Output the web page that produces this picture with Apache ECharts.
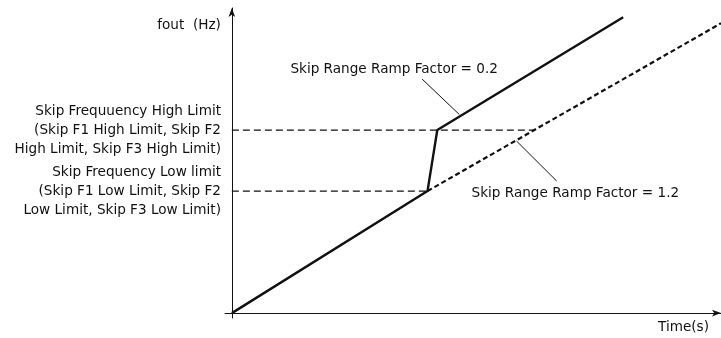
<!DOCTYPE html>
<html>
<head>
<meta charset="utf-8">
<script src="https://cdn.jsdelivr.net/npm/echarts@6/dist/echarts.min.js"></script>
<style>html,body{margin:0;padding:0;background:#fff}#c{width:721px;height:338px}</style>
</head>
<body>
<div id="c"></div>
<script>
// Data (arbitrary units: time 0..100, frequency 0..100)
const skipLow = 40;
const skipHigh = 60;
const rampFast = [[0, 0], [40, 40], [42, 60], [80, 97]];        // Skip Range Ramp Factor = 0.2
const rampSlow = [[40, 40], [100, 95]];                          // Skip Range Ramp Factor = 1.2
const highLimitGuide = [[0, 60], [61.8, 60]];
const lowLimitGuide = [[0, 40], [40, 40]];
const leader02 = [[38.9, 76.7], [46.5, 65.1]];
const leader12 = [[58.2, 56.4], [66.4, 43.3]];
const yLabelValues = [40, 60];
const yLabelTexts = {
  40: 'Skip Frequency Low limit\n(Skip F1 Low Limit, Skip F2\nLow Limit, Skip F3 Low Limit)',
  60: 'Skip Frequuency High Limit\n(Skip F1 High Limit, Skip F2\nHigh Limit, Skip F3 High Limit)'
};
const annotations = [
  { value: [54.4, 79.7], text: 'Skip Range Ramp Factor = 0.2', align: 'right' },
  { value: [49.0, 39.3], text: 'Skip Range Ramp Factor = 1.2', align: 'left' }
];
const xName = 'Time(s)';
const yName = 'fout  (Hz)';

const FONT = 'DejaVu Sans';
const FS = 13.6;
const INK = '#111';
const chart = echarts.init(document.getElementById('c'), null, { renderer: 'canvas' });
const thinDash = { color: '#111', width: 1.2, type: [7, 4] };
chart.setOption({
  animation: false,
  backgroundColor: '#fff',
  textStyle: { fontFamily: FONT },
  grid: { left: 225, right: 0, top: 8, bottom: 20 },
  xAxis: {
    type: 'value', min: -1.4, max: 100,
    name: xName, nameLocation: 'end', nameGap: -12,
    nameTextStyle: { fontFamily: FONT, fontSize: FS, color: INK, align: 'right', verticalAlign: 'top', padding: [7, 0, 0, 0] },
    axisLine: { onZero: true, lineStyle: { color: '#111', width: 1 }, symbol: ['none', 'arrow'], symbolSize: [5, 9] },
    axisTick: { show: false }, axisLabel: { show: false }, splitLine: { show: false }
  },
  yAxis: {
    type: 'value', min: -1.6, max: 100,
    name: yName, nameLocation: 'end', nameGap: -17,
    nameTextStyle: { fontFamily: FONT, fontSize: FS, color: INK, align: 'right', verticalAlign: 'middle', padding: [0, 11, 0, 0] },
    axisLine: { onZero: true, lineStyle: { color: '#111', width: 1 }, symbol: ['none', 'arrow'], symbolSize: [5, 9] },
    axisTick: { show: false },
    axisLabel: {
      customValues: yLabelValues, margin: 4, align: 'right',
      fontFamily: FONT, fontSize: FS, color: INK, lineHeight: 19,
      formatter: v => yLabelTexts[v] || ''
    },
    splitLine: { show: false }
  },
  series: [
    { type: 'line', data: highLimitGuide, symbol: 'none', lineStyle: thinDash, z: 1 },
    { type: 'line', data: lowLimitGuide, symbol: 'none', lineStyle: thinDash, z: 1 },
    { type: 'line', data: rampSlow, symbol: 'none', lineStyle: { color: '#111', width: 2.2, type: [5, 3] }, z: 2 },
    { type: 'line', data: rampFast, symbol: 'none', lineStyle: { color: '#111', width: 2.4 }, z: 3 },
    { type: 'line', data: leader02, symbol: 'none', lineStyle: { color: '#111', width: 1 }, z: 2 },
    { type: 'line', data: leader12, symbol: 'none', lineStyle: { color: '#111', width: 1 }, z: 2 },
    {
      type: 'scatter', symbolSize: 0, z: 5, itemStyle: { color: INK, opacity: 1 },
      data: annotations.map(a => ({
        value: a.value,
        label: { show: true, position: 'inside', formatter: a.text, align: a.align, verticalAlign: 'middle',
                 fontFamily: FONT, fontSize: FS, color: INK, textBorderWidth: 0, textBorderColor: 'transparent' }
      }))
    }
  ]
});
</script>
</body>
</html>
